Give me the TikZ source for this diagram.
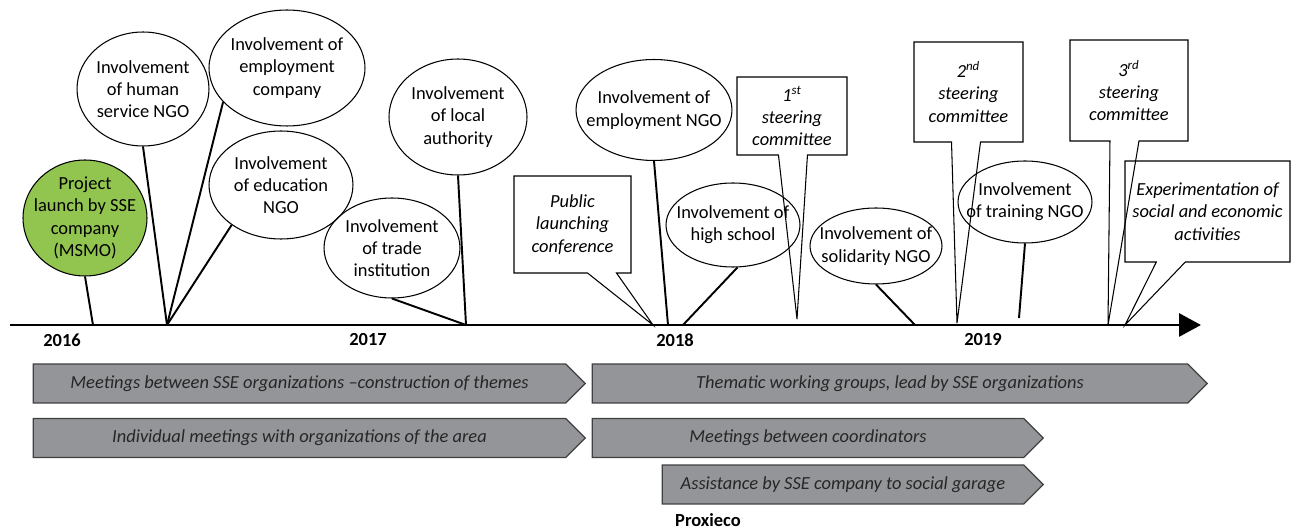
\documentclass[tikz,border=0pt]{standalone}
\usepackage{fontspec}
\setmainfont{Carlito}
\usetikzlibrary{shapes, shapes.callouts, arrows.meta, positioning}
\definecolor{launchgreen}{RGB}{146,197,80}
\definecolor{barfill}{RGB}{147,149,152}

\begin{document}
\begin{tikzpicture}[x=0.02cm, y=-0.02cm,
font=\fontsize{10.5}{12.7}\selectfont,
bubble/.style={ellipse, draw, line width=0.6pt, inner sep=-15pt, align=center},
bubble-launch/.style={bubble, fill=launchgreen},
callbox/.style={rectangle callout, draw, line width=0.6pt, inner sep=0pt, align=center,
callout pointer width=0.58cm, font=\fontsize{10.5}{12.7}\selectfont\itshape},
phase/.style={signal, signal to=east, signal pointer angle=90, draw=black!75, line width=0.7pt,
fill=barfill, minimum height=0.78cm, inner sep=0pt, text=black!85,
font=\fontsize{10.5}{12.7}\selectfont\itshape},
year/.style={font=\fontsize{10.5}{12.7}\selectfont\bfseries},
stem/.style={draw, line width=1.1pt},
axis/.style={draw, line width=1.7pt, -{Triangle[length=0.44cm, width=0.46cm]}}
]
\useasboundingbox (0,0) rectangle (1296,530);
\coordinate (axis-start) at (10,325);
\coordinate (axis-end) at (1201,325);
\coordinate (t-launch) at (93,325);
\coordinate (t-ngo) at (167,325);
\coordinate (t-local) at (466,325);
\coordinate (t-conf) at (653,325);
\coordinate (t-empngo) at (668,325);
\coordinate (t-school) at (683,325);
\coordinate (t-st1) at (797,319);
\coordinate (t-solid) at (915,325);
\coordinate (t-st2) at (957,323);
\coordinate (t-train) at (1019,318);
\coordinate (t-st3) at (1108,325);
\coordinate (t-expe) at (1125,325);

\node[bubble-launch, minimum width=2.48cm, minimum height=2.32cm] (launch) at (85,218)
  {Project\\launch by SSE\\company\\(MSMO)};
\node[bubble, minimum width=2.64cm, minimum height=2.28cm] (human) at (143,89)
  {Involvement\\of human\\service NGO};
\node[bubble, minimum width=3.12cm, minimum height=2.32cm] (empco) at (287,68)
  {Involvement of\\employment\\company};
\node[bubble, minimum width=2.88cm, minimum height=2.16cm] (edu) at (281,185)
  {Involvement\\of education\\NGO};
\node[bubble, minimum width=2.72cm, minimum height=2.0cm] (trade) at (392,248)
  {Involvement\\of trade\\institution};
\node[bubble, minimum width=2.76cm, minimum height=2.32cm] (local) at (458,117)
  {Involvement\\of local\\authority};
\node[bubble, minimum width=3.12cm, minimum height=2.02cm] (empngo) at (654,110)
  {Involvement of\\employment NGO};
\node[bubble, minimum width=2.68cm, minimum height=1.68cm] (school) at (733,225)
  {Involvement of\\high school};
\node[bubble, minimum width=2.64cm, minimum height=1.52cm] (solid) at (876,246)
  {Involvement of\\solidarity NGO};
\node[bubble, minimum width=2.68cm, minimum height=1.64cm] (train) at (1025,202)
  {Involvement\\of training NGO};

\node[callbox, minimum width=2.34cm, minimum height=1.94cm, callout absolute pointer={(t-conf)}]
  (conf) at (572.5,224.5) {Public\\launching\\conference};
\node[callbox, minimum width=2.2cm, minimum height=1.56cm, callout absolute pointer={(t-st1)}]
  (st1) at (792,116) {1\textsuperscript{st}\\steering\\committee};
\node[callbox, minimum width=2.18cm, minimum height=2.0cm, callout absolute pointer={(t-st2)}]
  (st2) at (968.5,92) {2\textsuperscript{nd}\\steering\\committee};
\node[callbox, minimum width=2.36cm, minimum height=2.02cm, callout absolute pointer={(t-st3)}]
  (st3) at (1129,90.5) {3\textsuperscript{rd}\\steering\\committee};
\node[callbox, minimum width=3.3cm, minimum height=2.02cm, callout absolute pointer={(t-expe)}]
  (expe) at (1207.5,211.5) {Experimentation of\\social and economic\\activities};

\node[year] (y2016) at (62,340) {2016};
\node[year] (y2017) at (368,340) {2017};
\node[year] (y2018) at (675,340) {2018};
\node[year] (y2019) at (983,340) {2019};

\node[phase, minimum width=11.04cm] (themes) at (299.5,383.5)
  {Meetings between SSE organizations --construction of themes};
\node[phase, minimum width=12.3cm] (groups) at (890,383.5)
  {Thematic working groups, lead by SSE organizations};
\node[phase, minimum width=11.04cm] (individual) at (299.5,438)
  {Individual meetings with organizations of the area};
\node[phase, minimum width=9.02cm] (coord) at (808,438)
  {Meetings between coordinators};
\node[phase, minimum width=7.62cm] (garage) at (843,484.5)
  {Assistance by SSE company to social garage};
\node[year, inner sep=0pt] (proxieco) at (708,520) {Proxieco};

\path [axis] (axis-start) -- (axis-end);
\path [stem] (launch.south) -- (t-launch);
\path [stem] (human.south) -- (t-ngo);
\path [stem] (empco.208) -- (t-ngo);
\path [stem] (edu.219) -- (t-ngo);
\path [stem] (trade.south) -- (t-local);
\path [stem] (local.south) -- (t-local);
\path [stem] (empngo.south) -- (t-empngo);
\path [stem] (school.276) -- (t-school);
\path [stem] (solid.south) -- (t-solid);
\path [stem] (train.south) -- (t-train);
\end{tikzpicture}
\end{document}
